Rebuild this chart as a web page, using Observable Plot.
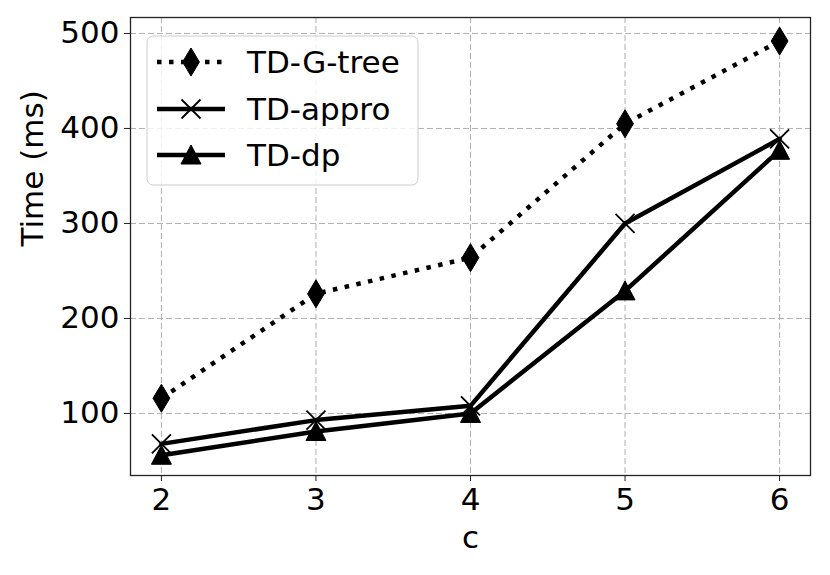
<!DOCTYPE html>
<html>
<head>
<meta charset="utf-8">
<script src="https://cdn.jsdelivr.net/npm/d3@7"></script>
<script src="https://cdn.jsdelivr.net/npm/@observablehq/plot@0.6"></script>
<style>
  html, body { margin: 0; padding: 0; background: white; }
  #chart { width: 830px; height: 575px; }
</style>
</head>
<body>
<div id="chart"></div>
<script>
// ---- data ----
const cValues = [2, 3, 4, 5, 6];
const gtreeTimes = [116, 226, 264, 405, 492];
const approTimes = [68, 93, 108, 300, 389];
const dpTimes = [56, 81, 100, 229, 377];
const seriesNames = ["TD-G-tree", "TD-appro", "TD-dp"];
const xTicks = [2, 3, 4, 5, 6];
const yTicks = [100, 200, 300, 400, 500];
const xLabel = "c";
const yLabel = "Time (ms)";

const toRows = (vals) => cValues.map((c, i) => ({c, t: vals[i]}));
const gtree = toRows(gtreeTimes);
const appro = toRows(approTimes);
const dp = toRows(dpTimes);

// ---- custom marker symbols ----
const rad = (size) => Math.sqrt(size / Math.PI);
const thinDiamond = {
  draw(ctx, size) {
    const r = rad(size);
    const w = r * 0.6;
    ctx.moveTo(0, -r); ctx.lineTo(w, 0); ctx.lineTo(0, r); ctx.lineTo(-w, 0); ctx.closePath();
  }
};
const xCross = {
  draw(ctx, size) {
    const r = rad(size);
    ctx.moveTo(-r, -r); ctx.lineTo(r, r);
    ctx.moveTo(-r, r); ctx.lineTo(r, -r);
  }
};
const triUp = {
  draw(ctx, size) {
    const r = rad(size);
    ctx.moveTo(0, -r); ctx.lineTo(r, r * 0.9); ctx.lineTo(-r, r * 0.9); ctx.closePath();
  }
};

const FONT = "DejaVu Sans";
const FS = 31;
const dotted = "4.5,7.5";

const chart = Plot.plot({
  width: 830,
  height: 575,
  marginLeft: 130,
  marginRight: 20,
  marginTop: 17,
  marginBottom: 100,
  style: {fontFamily: FONT, fontSize: FS + "px", color: "black", background: "white"},
  x: {domain: [1.8, 6.2], label: null},
  y: {domain: [34.7, 516.8], label: null},
  marks: [
    Plot.gridX(xTicks, {stroke: "#b0b0b0", strokeOpacity: 1, strokeWidth: 1, strokeDasharray: "6,3"}),
    Plot.gridY(yTicks, {stroke: "#b0b0b0", strokeOpacity: 1, strokeWidth: 1, strokeDasharray: "6,3"}),
    Plot.axisX(xTicks, {tickSize: 6, tickPadding: 6, tickFormat: d => String(d), fontSize: FS, label: null, stroke: "#222"}),
    Plot.axisY(yTicks, {tickSize: 6, tickPadding: 5, tickFormat: d => String(d), fontSize: FS, label: null, stroke: "#222"}),
    Plot.line(gtree, {x: "c", y: "t", stroke: "black", strokeWidth: 4.5, strokeDasharray: dotted, strokeLinecap: "butt"}),
    Plot.dot(gtree, {x: "c", y: "t", symbol: thinDiamond, r: 14, fill: "black", stroke: "black", strokeWidth: 1}),
    Plot.line(appro, {x: "c", y: "t", stroke: "black", strokeWidth: 4.5, strokeLinejoin: "round"}),
    Plot.dot(appro, {x: "c", y: "t", symbol: xCross, r: 9.5, fill: "none", stroke: "black", strokeWidth: 1.8}),
    Plot.line(dp, {x: "c", y: "t", stroke: "black", strokeWidth: 4.5, strokeLinejoin: "round"}),
    Plot.dot(dp, {x: "c", y: "t", symbol: triUp, r: 10, fill: "black", stroke: "black", strokeWidth: 1}),
    Plot.frame({stroke: "#222", strokeWidth: 1.3}),
    Plot.text([xLabel], {frameAnchor: "bottom", dy: 72, fontSize: FS, fill: "black"}),
    Plot.text([yLabel], {frameAnchor: "left", dx: -97, rotate: -90, fontSize: FS, fill: "black"})
  ]
});

document.getElementById("chart").appendChild(chart);

// ---- legend (inside plot, upper left) ----
const svg = d3.select(chart);
const lg = svg.append("g")
  .style("font-family", FONT)
  .style("font-size", FS + "px")
  .attr("text-anchor", "start");
lg.append("rect")
  .attr("x", 147).attr("y", 36).attr("width", 271).attr("height", 149)
  .attr("rx", 6).attr("ry", 6)
  .attr("fill", "white").attr("fill-opacity", 0.8)
  .attr("stroke", "#cccccc").attr("stroke-width", 1);

const rowsY = [62, 109, 155];
const syms = [thinDiamond, xCross, triUp];
const symR = [14, 9.5, 10];
seriesNames.forEach((name, i) => {
  const y = rowsY[i];
  const line = lg.append("line")
    .attr("x1", 157).attr("x2", 225).attr("y1", y).attr("y2", y)
    .attr("stroke", "black").attr("stroke-width", 4.5);
  if (i === 0) line.attr("stroke-dasharray", dotted);
  const p = d3.symbol(syms[i], symR[i] * symR[i] * Math.PI)();
  const m = lg.append("path").attr("d", p).attr("transform", `translate(191,${y})`);
  if (i === 1) m.attr("fill", "none").attr("stroke", "black").attr("stroke-width", 1.8);
  else m.attr("fill", "black").attr("stroke", "black").attr("stroke-width", 1);
  lg.append("text").attr("x", 247).attr("y", y).attr("dy", "0.36em")
    .attr("text-anchor", "start")
    .attr("fill", "black").text(name);
});
</script>
</body>
</html>
